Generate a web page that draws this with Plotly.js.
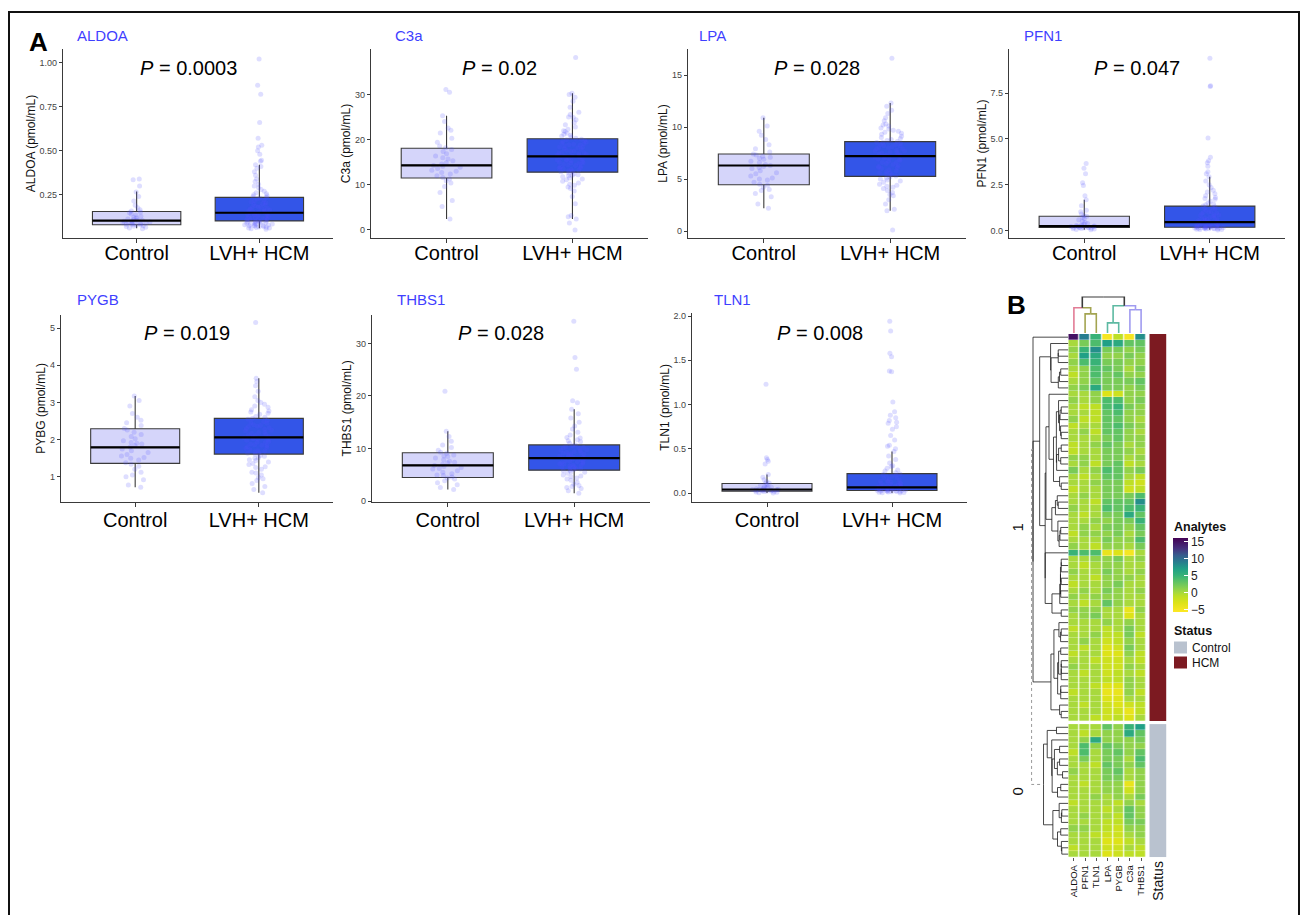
<!DOCTYPE html>
<html><head><meta charset="utf-8">
<script src="https://cdn.plot.ly/plotly-3.0.1.min.js"></script>
<style>html,body{margin:0;padding:0;background:#fff;} #chart{width:1302px;height:915px;}</style>
</head><body><div id="chart"></div>
<script>
// ---------------- DATA ----------------
const categories = ['Control', 'LVH+ HCM'];
const analyteNames = ['ALDOA', 'C3a', 'LPA', 'PFN1', 'PYGB', 'THBS1', 'TLN1'];
const yTitles = ['ALDOA (pmol/mL)', 'C3a (pmol/mL)', 'LPA (pmol/mL)', 'PFN1 (pmol/mL)', 'PYBG (pmol/mL)', 'THBS1 (pmol/mL)', 'TLN1 (pmol/mL)'];
const pValues = ['0.0003', '0.02', '0.028', '0.047', '0.019', '0.028', '0.008'];

// box statistics: [lowerfence, q1, median, q3, upperfence]
const aldoaCtrlStats = [0.06, 0.08, 0.104, 0.155, 0.268];
const aldoaHcmStats  = [0.06, 0.102, 0.148, 0.235, 0.42];
const c3aCtrlStats   = [2.4, 11.5, 14.3, 18.1, 25.3];
const c3aHcmStats    = [2.4, 12.8, 16.3, 20.2, 30.3];
const lpaCtrlStats   = [2.2, 4.45, 6.3, 7.4, 10.9];
const lpaHcmStats    = [1.95, 5.25, 7.2, 8.6, 12.3];
const pfn1CtrlStats  = [0.04, 0.16, 0.24, 0.78, 1.67];
const pfn1HcmStats   = [0.04, 0.18, 0.46, 1.33, 2.93];
const pygbCtrlStats  = [0.72, 1.36, 1.79, 2.29, 3.17];
const pygbHcmStats   = [0.57, 1.61, 2.06, 2.57, 3.65];
const thbs1CtrlStats = [2.2, 4.5, 6.8, 9.2, 13.3];
const thbs1HcmStats  = [1.5, 5.9, 8.2, 10.7, 17.5];
const tln1CtrlStats  = [0.0, 0.022, 0.041, 0.108, 0.21];
const tln1HcmStats   = [0.0, 0.03, 0.064, 0.22, 0.47];

// individual samples (read approximately from the jittered points)
const aldoaControl = [0.058,0.062,0.066,0.07,0.071,0.075,0.078,0.08,0.081,0.083,0.086,0.088,0.09,0.092,0.093,0.095,0.097,0.1,0.102,0.104,0.105,0.107,0.11,0.113,0.118,0.122,0.128,0.135,0.141,0.148,0.152,0.158,0.165,0.176,0.19,0.215,0.24,0.265,0.3,0.335,0.34];
const aldoaHCM = [0.055,0.058,0.061,0.062,0.064,0.066,0.068,0.07,0.073,0.074,0.076,0.077,0.079,0.08,0.083,0.084,0.085,0.088,0.089,0.09,0.093,0.094,0.096,0.098,0.1,0.101,
 0.103,0.105,0.107,0.109,0.11,0.113,0.114,0.116,0.119,0.12,0.122,0.125,0.126,0.128,0.131,0.132,0.135,0.137,0.14,0.142,0.145,0.147,
 0.15,0.152,0.155,0.158,0.16,0.164,0.166,0.17,0.173,0.177,0.18,0.184,0.188,0.193,0.196,0.2,0.205,0.21,0.216,0.22,0.226,0.23,0.234,
 0.24,0.245,0.25,0.256,0.262,0.27,0.28,0.29,0.3,0.31,0.325,0.34,0.36,0.38,0.4,0.41,0.42,0.44,0.445,0.48,0.5,0.52,0.53,0.57,0.66,0.82,0.87,1.02];
const c3aControl = [2.4,5.2,6.5,8.3,9.6,10.4,10.9,11.3,11.6,12.0,12.4,12.7,13.0,13.2,13.6,13.9,14.1,14.3,14.6,14.9,15.3,15.7,16.0,16.4,16.9,17.4,17.8,18.2,18.6,19.4,20.3,21.5,22.1,22.6,24.0,25.3,30.5,31.1];
const c3aHCM = [0.0,1.5,2.4,2.9,3.2,5.8,7.4,8.6,9.2,9.9,10.4,10.8,11.1,11.5,11.8,12.0,12.2,12.4,12.6,12.9,13.1,13.3,13.5,13.7,13.9,14.1,14.3,14.5,14.7,14.9,15.1,15.3,15.5,15.7,15.9,16.1,16.3,16.4,16.6,16.8,17.0,17.2,17.4,17.6,17.8,18.0,18.2,18.4,18.6,18.8,19.0,19.2,19.4,19.6,19.8,20.1,20.3,20.6,21.0,21.4,21.8,22.3,22.8,23.3,23.8,24.4,25.0,25.6,26.1,27.2,28.5,29.4,30.0,30.3,38.2,
 12.1,13.0,13.8,14.4,15.0,15.6,16.0,16.9,17.5,18.3,19.1,20.0,20.8,11.3,10.1,9.5,21.2,22.0,24.9,13.4,14.8,16.5,18.9,17.1,15.4];
const lpaControl = [2.2,2.6,3.3,3.6,3.9,4.2,4.4,4.5,4.7,4.9,5.1,5.3,5.5,5.6,5.8,6.0,6.2,6.3,6.4,6.6,6.7,6.9,7.0,7.2,7.3,7.4,7.6,7.9,8.3,8.8,9.2,9.6,10.1,10.9,4.0,5.0,6.1,7.1];
const lpaHCM = [0.1,1.95,2.1,2.6,3.0,3.4,3.7,3.9,4.1,4.3,4.5,4.7,4.8,5.0,5.1,5.2,5.3,5.4,5.6,5.7,5.9,6.0,6.1,6.2,6.4,6.5,6.6,6.7,6.8,6.9,7.0,7.1,7.2,7.3,7.4,7.5,7.6,7.7,7.8,7.9,8.0,8.1,8.2,8.3,8.4,8.5,8.6,8.7,8.9,9.1,9.3,9.5,9.7,9.9,10.1,10.3,10.6,10.9,11.3,11.6,12.0,12.3,16.6,
 4.4,4.9,5.5,5.8,6.3,6.6,7.0,7.3,7.6,7.9,8.2,8.5,8.8,9.0,9.4,9.8,10.2,6.9,7.4,8.0,5.6,3.5,4.2,6.1,7.7,8.3,9.6];
const pfn1Control = [0.04,0.06,0.08,0.1,0.11,0.12,0.14,0.15,0.16,0.17,0.18,0.19,0.2,0.22,0.23,0.24,0.25,0.27,0.3,0.34,0.38,0.43,0.5,0.58,0.66,0.72,0.78,0.82,0.9,1.02,1.1,1.35,1.67,1.9,2.45,2.6,3.1,3.4,3.65];
const pfn1HCM = [0.03,0.05,0.06,0.08,0.09,0.1,0.11,0.12,0.13,0.14,0.15,0.16,0.17,0.18,0.19,0.2,0.21,0.23,0.25,0.27,0.29,0.31,0.33,0.35,0.38,0.4,0.42,0.44,0.46,0.48,0.5,0.53,0.56,0.6,0.64,0.68,0.72,0.77,0.82,0.87,0.92,0.98,1.04,1.1,1.16,1.22,1.28,1.33,1.4,1.5,1.6,1.7,1.8,1.9,2.0,2.1,2.2,2.35,2.5,2.7,2.93,3.1,3.2,3.5,3.7,3.8,4.0,5.05,7.85,7.9,9.4,
 0.07,0.1,0.13,0.16,0.22,0.3,0.36,0.45,0.55,0.7,0.85,1.0,1.2,1.45,1.75,0.12,0.19,0.26,0.6,0.95];
const pygbControl = [0.72,0.78,0.92,1.0,1.05,1.12,1.2,1.28,1.34,1.38,1.45,1.52,1.56,1.6,1.65,1.7,1.75,1.8,1.84,1.88,1.92,1.97,2.02,2.08,2.14,2.2,2.26,2.3,2.38,2.45,2.52,2.6,2.7,2.9,3.05,3.17,1.5,1.9];
const pygbHCM = [0.57,0.66,0.74,0.82,0.9,0.98,1.05,1.12,1.2,1.27,1.33,1.4,1.46,1.52,1.57,1.61,1.65,1.69,1.73,1.77,1.81,1.85,1.88,1.92,1.95,1.98,2.01,2.05,2.08,2.11,2.14,2.17,2.2,2.24,2.28,2.32,2.36,2.4,2.44,2.48,2.52,2.57,2.62,2.68,2.74,2.8,2.87,2.95,3.05,3.15,3.3,3.45,3.56,3.65,5.15,
 1.36,1.5,1.63,1.7,1.79,1.86,1.93,2.0,2.06,2.13,2.19,2.25,2.35,2.45,2.6,2.71,2.9,1.1,1.25,1.55,1.84,2.02,2.3,0.95,1.44,1.67,2.38,2.55,2.77,3.0];
const thbs1Control = [2.2,2.6,3.1,3.5,3.9,4.2,4.4,4.6,4.9,5.2,5.5,5.8,6.1,6.4,6.6,6.8,7.0,7.3,7.6,7.9,8.2,8.5,8.8,9.1,9.3,9.7,10.2,10.7,11.4,12.3,13.3,20.9,5.0,6.2,7.4,8.6];
const thbs1HCM = [1.5,2.0,2.4,2.8,3.2,3.6,4.0,4.4,4.7,5.0,5.3,5.6,5.9,6.1,6.3,6.5,6.7,6.9,7.1,7.3,7.5,7.7,7.9,8.1,8.2,8.4,8.6,8.8,9.0,9.2,9.4,9.6,9.8,10.0,10.2,10.4,10.7,11.0,11.3,11.7,12.1,12.6,13.1,13.7,14.3,15.0,15.8,16.6,17.5,18.7,19.1,25.1,27.3,34.2,
 4.2,5.5,6.0,6.6,7.0,7.6,8.0,8.5,9.1,9.7,10.5,11.5,12.0,3.0,4.8,6.8,7.4,8.3,8.9,10.1,6.2,7.2,9.3,2.6,5.8];
const tln1Control = [0.0,0.005,0.01,0.013,0.017,0.02,0.022,0.025,0.028,0.031,0.034,0.037,0.04,0.042,0.045,0.049,0.054,0.06,0.067,0.075,0.085,0.095,0.105,0.115,0.13,0.15,0.18,0.21,0.33,0.36,0.38,0.4,1.23,0.03,0.05,0.07];
const tln1HCM = [0.0,0.004,0.008,0.012,0.016,0.02,0.024,0.028,0.03,0.033,0.036,0.04,0.043,0.046,0.05,0.053,0.056,0.059,0.062,0.064,0.068,0.073,0.078,0.084,0.09,0.097,0.105,0.114,0.124,0.135,0.147,0.16,0.173,0.187,0.2,0.215,0.23,0.25,0.28,0.31,0.34,0.38,0.42,0.47,0.5,0.53,0.54,0.6,0.65,0.72,0.75,0.79,0.8,0.82,0.85,0.88,0.92,1.03,1.37,1.38,1.54,1.58,1.83,1.94,
 0.01,0.02,0.035,0.045,0.055,0.07,0.08,0.11,0.13,0.17,0.21,0.26,0.015,0.025,0.06,0.1,0.14,0.19,0.3,0.036];

// y-axis tick values / labels
const aldoaTicks = [0.25, 0.50, 0.75, 1.00];
const c3aTicks = [0, 10, 20, 30];
const lpaTicks = [0, 5, 10, 15];
const pfn1Ticks = [0.0, 2.5, 5.0, 7.5];
const pygbTicks = [1, 2, 3, 4, 5];
const thbs1Ticks = [0, 10, 20, 30];
const tln1Ticks = [0.0, 0.5, 1.0, 1.5, 2.0];

// heatmap (panel B)
const heatColumns = ['ALDOA', 'PFN1', 'TLN1', 'LPA', 'PYGB', 'C3a', 'THBS1'];
const hcmRows = [
 [15,9,5,-5,-1,-5,8],[0,2,4,7,6,3,3],[1,5,8,2,2,1,2],[0,7,6,1,1,2,1],[1,4,5,2,2,1,1],
 [0,1,4,3,2,0,2],[-1,1,4,2,3,1,1],[0,1,3,2,2,2,3],[1,2,6,2,2,1,2],[0,0,1,-3,-2,1,1],
 [1,0,1,4,4,1,2],[0,-1,-1,4,5,2,1],[0,0,-1,3,4,1,1],[1,-1,-1,3,3,1,0],[-1,0,0,3,4,2,1],
 [0,1,-1,3,3,1,0],[0,0,0,2,3,1,1],[-1,0,1,3,2,0,1],[-1,0,0,2,2,1,0],[1,1,0,2,2,0,1],
 [0,1,-1,2,3,-1,0],[2,0,1,4,3,1,2],[0,-1,0,3,3,0,-1],[0,0,1,2,2,-1,-2],[-1,0,0,2,2,-2,-1],
 [0,1,0,2,2,2,4],[0,0,-1,3,3,3,8],[1,0,0,4,3,4,5],[0,-1,0,2,2,6,3],[0,0,1,1,2,2,5],
 [0,1,0,2,2,1,3],[-1,1,1,1,2,0,2],[0,0,0,2,1,1,4],[1,0,-1,1,1,0,2],[5,4,4,-4,-3,-5,0],
 [0,0,1,1,2,0,1],[0,-1,0,1,1,0,0],[1,0,0,2,1,0,1],[0,0,-1,1,1,1,0],[-1,0,0,1,2,0,0],
 [0,1,0,2,1,0,1],[1,0,1,1,1,0,0],[0,-1,0,3,1,0,0],[1,1,1,0,0,-4,1],[0,1,2,0,0,-3,0],
 [0,0,0,1,0,1,0],[-1,0,0,-1,0,2,0],[0,0,1,-1,-1,2,-1],[0,1,0,-2,-1,1,0],[0,-1,0,-3,-2,2,0],
 [-1,0,0,-3,-3,1,-1],[0,0,-1,-2,-2,0,-1],[1,0,0,-2,-2,1,0],[0,-1,0,-2,-1,0,-1],[0,0,0,-1,-1,1,0],
 [0,0,-1,-3,-3,1,0],[-1,0,0,-4,-4,1,-1],[0,0,0,-3,-3,0,0],[0,-1,0,-2,-3,-2,-1],[0,0,0,-2,-2,-4,-1],
 [0,0,-1,-2,-1,-3,0]
];
const controlRows = [
 [0,0,0,3,1,5,7],[0,-1,0,1,1,6,3],[0,1,6,1,1,1,2],[0,4,1,3,2,1,1],[-1,4,0,2,3,1,3],
 [0,2,0,2,2,0,4],[0,0,-1,3,2,1,3],[1,0,0,2,3,0,1],[0,0,0,2,2,0,1],[0,-1,0,1,1,-4,1],
 [0,0,0,1,1,-2,1],[0,0,1,0,1,0,2],[-1,0,0,0,-1,1,0],[0,0,0,-1,0,3,1],[0,1,0,0,-1,3,1],
 [0,0,0,-1,-1,2,2],[1,1,0,-1,-2,1,1],[0,0,-1,-2,-2,0,1],[0,0,0,-3,-3,-1,0],[-1,0,0,-2,-2,0,-1],
 [0,0,0,-3,-2,-1,-1]
];
const colorbarTicks = [-5, 0, 5, 10, 15];
const statusLevels = ['Control', 'HCM'];
// column dendrogram merges (hclust style: negative = leaf index, positive = earlier merge)
const colMerges = [[-2,-3,1.9],[-4,-5,1.0],[-6,-7,2.3],[-1,1,2.5],[2,3,2.7],[4,5,3.6]];
const colLeafGroup = [0, 1, 1, 2, 2, 3, 3];

// ---------------- STYLE / GEOMETRY ----------------
const W = 1302, H = 915;
const fx = p => p / W, fy = p => 1 - p / H;
const FONT = 'Liberation Sans, Arial, Helvetica, sans-serif';
const groupColors = ['#e27c95', '#a3a451', '#5db9a2', '#a09bf0'];
const geom = [
 {L:63, R:333, T:49, B:238, tx:75, ty:35, range:[0.005,1.076], fmt:'.2f', sd:-7},
 {L:371, R:648, T:49, B:238, tx:393, ty:35, range:[-1.8,40.1], fmt:'d', sd:-7},
 {L:688, R:966, T:49, B:238, tx:697, ty:35, range:[-0.67,17.5], fmt:'d', sd:-7},
 {L:1009, R:1285, T:49, B:238, tx:1022, ty:35, range:[-0.41,9.9], fmt:'.1f', sd:-7},
 {L:61, R:333, T:315, B:501.7, tx:75, ty:300, range:[0.33,5.35], fmt:'d', sd:-4},
 {L:372, R:650, T:315, B:501.7, tx:395, ty:300, range:[-0.1,35.4], fmt:'d', sd:-4},
 {L:692, R:967, T:313, B:501.7, tx:712, ty:300, range:[-0.097,2.034], fmt:'.1f', sd:-4}
];
const ctrlPts = [aldoaControl, c3aControl, lpaControl, pfn1Control, pygbControl, thbs1Control, tln1Control];
const hcmPts = [aldoaHCM, c3aHCM, lpaHCM, pfn1HCM, pygbHCM, thbs1HCM, tln1HCM];
const ctrlStats = [aldoaCtrlStats, c3aCtrlStats, lpaCtrlStats, pfn1CtrlStats, pygbCtrlStats, thbs1CtrlStats, tln1CtrlStats];
const hcmStats = [aldoaHcmStats, c3aHcmStats, lpaHcmStats, pfn1HcmStats, pygbHcmStats, thbs1HcmStats, tln1HcmStats];
const ticksList = [aldoaTicks, c3aTicks, lpaTicks, pfn1Ticks, pygbTicks, thbs1Ticks, tln1Ticks];

const traces = [];
const layout = {
 width: W, height: H, margin: {l:0, r:0, t:0, b:0},
 paper_bgcolor: '#ffffff', plot_bgcolor: 'rgba(0,0,0,0)',
 showlegend: false, hovermode: false, boxmode: 'overlay',
 font: {family: FONT, color: '#000'},
 annotations: [], shapes: []
};
const BOXW = 0.72;

geom.forEach((g, i) => {
 const k = i + 1, sfx = k === 1 ? '' : String(k);
 const xa = 'x' + sfx, ya = 'y' + sfx;
 const cs = ctrlStats[i], hs = hcmStats[i];
 const statBox = (cat, s, fill) => ({
   type:'box', x:[cat], lowerfence:[s[0]], q1:[s[1]], median:[s[2]], q3:[s[3]], upperfence:[s[4]],
   fillcolor: fill, line:{color:'#3a3a3a', width:1.1}, whiskerwidth:0, width:BOXW,
   boxpoints:false, xaxis:xa, yaxis:ya
 });
 traces.push(statBox(categories[0], cs, '#d5d5fa'));
 traces.push(statBox(categories[1], hs, '#3355e8'));
 const ptsBox = (cat, ys) => ({
   type:'box', x: ys.map(() => cat), y: ys, boxpoints:'all', jitter:0.34, pointpos:0,
   fillcolor:'rgba(0,0,0,0)', line:{width:0, color:'rgba(0,0,0,0)'}, whiskerwidth:0, width:BOXW,
   marker:{color:'rgba(80,80,255,0.19)', size:5, line:{width:0}}, xaxis:xa, yaxis:ya
 });
 traces.push(ptsBox(categories[0], ctrlPts[i]));
 traces.push(ptsBox(categories[1], hcmPts[i]));
 traces.push({
   type:'box', x: categories, lowerfence:[cs[2], hs[2]], q1:[cs[2], hs[2]], median:[cs[2], hs[2]],
   q3:[cs[2], hs[2]], upperfence:[cs[2], hs[2]], fillcolor:'rgba(0,0,0,0)',
   line:{color:'#000', width:2.2}, whiskerwidth:0, width:BOXW, boxpoints:false, xaxis:xa, yaxis:ya
 });
 layout['xaxis' + sfx] = {
   domain:[fx(g.L), fx(g.R)], anchor: ya, type:'category', categoryorder:'array', categoryarray: categories,
   range:[-0.6, 1.6], showline:true, linecolor:'#3a3a3a', linewidth:1.1, ticks:'outside', ticklen:4,
   tickcolor:'#3a3a3a', tickfont:{size:20, color:'#000'}, ticklabelstandoff: g.sd,
   showgrid:false, zeroline:false, automargin:false, fixedrange:true
 };
 layout['yaxis' + sfx] = {
   domain:[fy(g.B), fy(g.T)], anchor: xa, range: g.range, tickvals: ticksList[i], tickformat: g.fmt,
   showline:true, linecolor:'#3a3a3a', linewidth:1.1, ticks:'outside', ticklen:3, tickcolor:'#3a3a3a',
   tickfont:{size:9, color:'#444'}, showgrid:false, zeroline:false, automargin:false, fixedrange:true,
   title:{text: yTitles[i], font:{size:12, color:'#111'}, standoff:1}
 };
 layout.annotations.push({
   text: analyteNames[i], xref:'paper', yref:'paper', x: fx(g.tx), y: fy(g.ty), xanchor:'left', yanchor:'middle',
   showarrow:false, font:{size:15, color:'#3f3fff'}
 });
 layout.annotations.push({
   text: '<i>P</i> = ' + pValues[i], xref: xa + ' domain', yref:'paper', x:0.465, y: fy(g.ty + 33),
   xanchor:'center', yanchor:'middle', showarrow:false, font:{size:20, color:'#000'}
 });
});

// ---------- Panel B: heatmap ----------
const HM = {L:1068.3, R:1146.7, T:334, B:857.3};
const zmin = -5.7, zmax = 16.1;
const colorStops = [[-5.7,'#fde725'],[-3,'#dde318'],[-1,'#bddf26'],[0,'#a8d93d'],[2,'#79cb57'],[4,'#4dbc6c'],[5,'#38b277'],[7,'#20a086'],[9,'#277d8e'],[11,'#365c8d'],[13,'#46317e'],[16.1,'#440154']];
const colorscale = colorStops.map(s => [(s[0] - zmin) / (zmax - zmin), s[1]]);
const hcmY = hcmRows.map((r, i) => i);
const ctrlY = controlRows.map((r, i) => hcmRows.length + 0.5 + i);
const yMax = hcmRows.length + 0.5 + controlRows.length - 0.5;

traces.push({
 type:'heatmap', x: heatColumns, y: hcmY, z: hcmRows, zmin, zmax, colorscale, xgap:1.2, ygap:0.3,
 xaxis:'x8', yaxis:'y8', showscale:true,
 colorbar:{x: fx(1173), xanchor:'left', y: fy(538), yanchor:'top', len:74, lenmode:'pixels', thickness:15,
   thicknessmode:'pixels', tickvals: colorbarTicks, ticks:'inside', ticklen:4, tickcolor:'#ffffff', tickwidth:1.2,
   outlinewidth:0, tickfont:{size:12, color:'#222'}, xpad:0, ypad:0}
});
traces.push({
 type:'heatmap', x: heatColumns, y: ctrlY, z: controlRows, zmin, zmax, colorscale, xgap:1.2, ygap:0.3,
 xaxis:'x8', yaxis:'y8', showscale:false
});
// status bar
traces.push({type:'heatmap', x:['Status'], y: hcmY, z: hcmRows.map(() => [1]), zmin:0, zmax:1,
 colorscale:[[0,'#b9c2cf'],[1,'#7c1a21']], showscale:false, xaxis:'x9', yaxis:'y8'});
traces.push({type:'heatmap', x:['Status'], y: ctrlY, z: controlRows.map(() => [0]), zmin:0, zmax:1,
 colorscale:[[0,'#b9c2cf'],[1,'#7c1a21']], showscale:false, xaxis:'x9', yaxis:'y8'});

layout.xaxis8 = {domain:[fx(HM.L), fx(HM.R)], anchor:'y8', type:'category', showline:false, showgrid:false, zeroline:false,
 ticks:'outside', ticklen:3, tickcolor:'#555', tickangle:-90, tickfont:{size:9.5, color:'#111'}, automargin:false, fixedrange:true};
layout.yaxis8 = {domain:[fy(HM.B), fy(HM.T)], anchor:'x8', range:[yMax, -0.5], visible:false, fixedrange:true};
layout.xaxis9 = {domain:[fx(1149.3), fx(1166.7)], anchor:'y8', type:'category', showline:false, showgrid:false, zeroline:false,
 ticks:'', tickangle:-90, tickfont:{size:14, color:'#111'}, automargin:false, fixedrange:true};

// ---------- row dendrograms (adjacency-constrained Ward clustering of the heatmap rows) ----------
function clusterRows(rows, offset) {
 let cl = rows.map((r, i) => ({n:1, m:r.slice(), pos:i + offset, h:0}));
 const segs = [];
 while (cl.length > 1) {
   let best = 0, bc = Infinity;
   for (let i = 0; i < cl.length - 1; i++) {
     const a = cl[i], b = cl[i + 1];
     let d = 0;
     for (let k = 0; k < a.m.length; k++) { const t = a.m[k] - b.m[k]; d += t * t; }
     const c = a.n * b.n / (a.n + b.n) * d;
     if (c < bc) { bc = c; best = i; }
   }
   const a = cl[best], b = cl[best + 1];
   const h = Math.max(Math.sqrt(2 * bc), a.h, b.h);
   segs.push([[a.h, a.pos], [h, a.pos], [h, b.pos], [b.h, b.pos]]);
   const node = {n:a.n + b.n, m:a.m.map((v, k) => (v * a.n + b.m[k] * b.n) / (a.n + b.n)), pos:(a.pos + b.pos) / 2, h};
   cl.splice(best, 2, node);
 }
 return {root: cl[0], segs};
}
const disp = h => Math.pow(h, 0.6);
const d1 = clusterRows(hcmRows, 0), d0 = clusterRows(controlRows, hcmRows.length + 0.5);
const Hd = disp(d1.root.h);
const rx = [], ry = [];
[d1, d0].forEach(d => d.segs.forEach(s => { s.forEach(p => { rx.push(disp(p[0])); ry.push(p[1]); }); rx.push(null); ry.push(null); }));
traces.push({type:'scatter', mode:'lines', x: rx, y: ry, line:{color:'#1a1a1a', width:0.8}, xaxis:'x10', yaxis:'y8'});
const Hp = Hd * 1.04;
traces.push({type:'scatter', mode:'lines',
 x:[Hd, Hp, Hp, disp(d0.root.h)], y:[d1.root.pos, d1.root.pos, d0.root.pos, d0.root.pos],
 line:{color:'#999', width:1, dash:'dot'}, xaxis:'x10', yaxis:'y8'});
layout.xaxis10 = {domain:[fx(1029), fx(HM.L)], anchor:'y8', range:[Hd * (HM.L - 1029) / (HM.L - 1033), 0], visible:false, fixedrange:true};

// ---------- column dendrogram ----------
(function () {
 const nodes = [];
 const info = idx => idx < 0 ? {x: -idx - 1, h: 0, g: colLeafGroup[-idx - 1]} : nodes[idx - 1];
 const byColor = {};
 const add = (color, pts) => { if (!byColor[color]) byColor[color] = {x:[], y:[]}; pts.forEach(p => { byColor[color].x.push(p[0]); byColor[color].y.push(p[1]); }); byColor[color].x.push(null); byColor[color].y.push(null); };
 colMerges.forEach(m => {
   const a = info(m[0]), b = info(m[1]);
   const px = (a.x + b.x) / 2, h = m[2];
   [a, b].forEach(c => { const col = c.g >= 0 ? groupColors[c.g] : '#3a3a3a'; add(col, [[c.x, c.h], [c.x, h], [px, h]]); });
   nodes.push({x: px, h, g: (a.g === b.g) ? a.g : -1});
 });
 Object.keys(byColor).forEach(c => traces.push({type:'scatter', mode:'lines', x: byColor[c].x, y: byColor[c].y,
   line:{color:c, width:1.6}, xaxis:'x11', yaxis:'y11'}));
})();
layout.xaxis11 = {domain:[fx(HM.L), fx(HM.R)], anchor:'y11', range:[-0.5, heatColumns.length - 0.5], visible:false, fixedrange:true};
layout.yaxis11 = {domain:[fy(333), fy(296.5)], anchor:'x11', range:[0, 3.62], visible:false, fixedrange:true};

// ---------- annotations / legend for B ----------
const ann = (text, x, y, opts) => layout.annotations.push(Object.assign({text, xref:'paper', yref:'paper', x: fx(x), y: fy(y), showarrow:false, xanchor:'left', yanchor:'middle'}, opts || {}));
ann('<b>A</b>', 38, 42, {xanchor:'center', font:{size:26, color:'#000'}});
ann('<b>B</b>', 1016, 305, {xanchor:'center', font:{size:26, color:'#000'}});
ann('1', 1017, (HM.T + 721) / 2, {xanchor:'center', textangle:-90, font:{size:15, color:'#111'}});
ann('0', 1017, 791.5, {xanchor:'center', textangle:-90, font:{size:15, color:'#111'}});
ann('<b>Analytes</b>', 1172, 527, {font:{size:12.5, color:'#111'}});
ann('<b>Status</b>', 1172, 631, {font:{size:12.5, color:'#111'}});
ann(statusLevels[0], 1190, 647.5, {font:{size:12, color:'#111'}});
ann(statusLevels[1], 1190, 662.5, {font:{size:12, color:'#111'}});
layout.shapes.push({type:'rect', xref:'paper', yref:'paper', x0:fx(1174), x1:fx(1187), y0:fy(641.5), y1:fy(653.5), fillcolor:'#b9c2cf', line:{width:0}});
layout.shapes.push({type:'rect', xref:'paper', yref:'paper', x0:fx(1174), x1:fx(1187), y0:fy(656.5), y1:fy(668.5), fillcolor:'#7c1a21', line:{width:0}});
// figure frame
layout.shapes.push({type:'rect', xref:'paper', yref:'paper', x0:fx(9), x1:fx(1299), y0:fy(935), y1:fy(12), line:{color:'#111', width:2}, fillcolor:'rgba(0,0,0,0)'});

Plotly.newPlot('chart', traces, layout, {staticPlot:true, displayModeBar:false});
</script></body></html>
